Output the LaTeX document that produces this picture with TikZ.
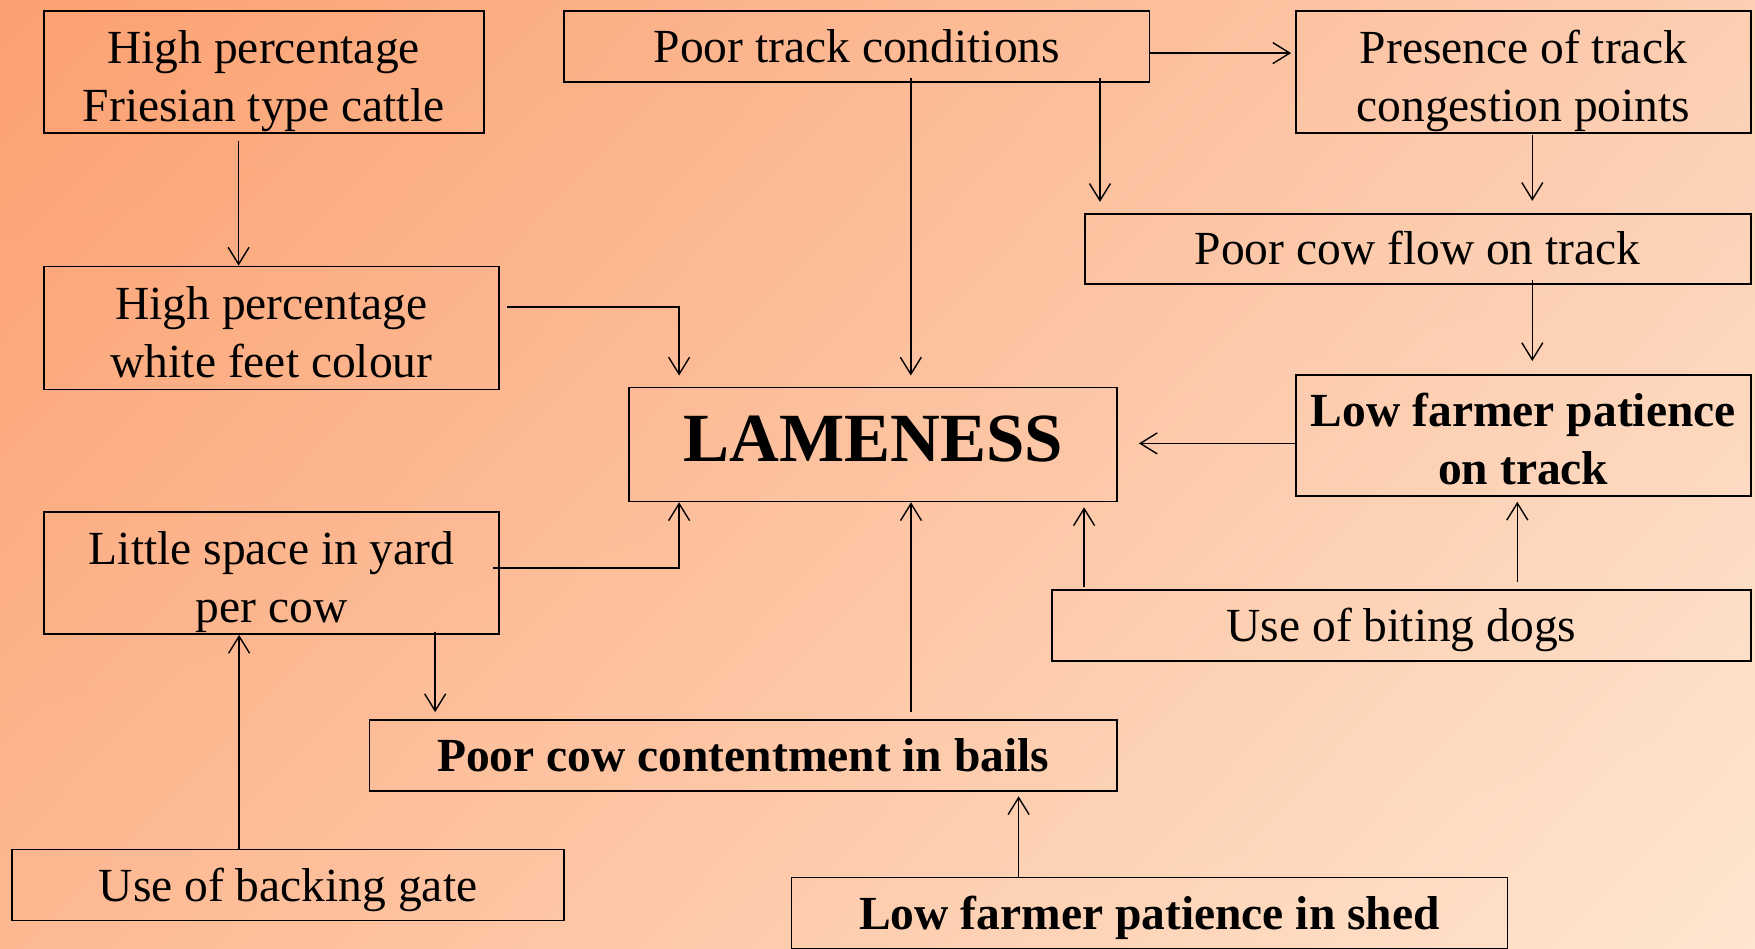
\documentclass[tikz,border=0pt]{standalone}
\usepackage{fontspec}
\setmainfont{Liberation Serif}
\usetikzlibrary{arrows.meta,calc,shadings}

\definecolor{bgUL}{RGB}{251,160,112}
\definecolor{bgUR}{RGB}{252,206,178}
\definecolor{bgLL}{RGB}{253,184,146}
\definecolor{bgLR}{RGB}{254,230,208}

\newcommand{\twoline}[2]{\rule{0pt}{51.5pt}#1\\#2\rule[-10.5pt]{0pt}{10.5pt}}

\begin{document}
\begin{tikzpicture}[x=1pt,y=1pt,yscale=-1,xscale=1,
  factor/.style={draw, line width=1.8pt, inner sep=0pt, align=center, font=\fontsize{47.5}{58}\selectfont},
  keyfactor/.style={factor, font=\fontsize{47.5}{58}\selectfont\bfseries},
  oneline/.style={text height=32pt, text depth=0pt},
  link/.style={line width=1.4pt, -{Straight Barb[length=17pt,width=21pt,line width=1.4pt]}}]
\useasboundingbox (0,0) rectangle (1755,949);
\clip (0,0) rectangle (1755,949);
%Background
\shade [upper left=bgUL, upper right=bgUR, lower left=bgLL, lower right=bgLR] (0,0) rectangle (1755,949);

%Flowchart: Process
\node [factor, minimum width=440pt, minimum height=122pt] (friesian) at (263.6,72) {\twoline{High percentage}{Friesian type cattle}};
%Flowchart: Process
\node [factor, minimum width=455.5pt, minimum height=123pt] (whitefeet) at (271.5,328) {\twoline{High percentage}{white feet colour}};
%Flowchart: Process
\node [factor, oneline, minimum width=585.5pt, minimum height=71pt] (track) at (856.8,46.6) {Poor track conditions};
%Flowchart: Process
\node [factor, minimum width=454.6pt, minimum height=122pt] (congestion) at (1523.3,72.2) {\twoline{Presence of track}{congestion points}};
%Flowchart: Process
\node [factor, oneline, minimum width=666pt, minimum height=70.5pt] (cowflow) at (1417.6,249) {Poor cow flow on track};
%Flowchart: Process
\node [factor, minimum width=488pt, minimum height=114pt, text height=34.6pt, text depth=0pt, font=\fontsize{69}{80}\selectfont\bfseries] (lameness) at (873,444.4) {LAMENESS};
%Flowchart: Process
\node [keyfactor, minimum width=454.6pt, minimum height=121pt] (patiencetrack) at (1523.3,435.4) {\twoline{Low farmer patience}{on track}};
%Flowchart: Process
\node [factor, minimum width=455.5pt, minimum height=122pt] (yardspace) at (271.5,573) {\twoline{Little space in yard}{per cow}};
%Flowchart: Process
\node [factor, oneline, minimum width=699pt, minimum height=71pt] (dogs) at (1401.5,625.5) {Use of biting dogs};
%Flowchart: Process
\node [keyfactor, oneline, minimum width=747.6pt, minimum height=71.3pt] (contentment) at (743.2,755.7) {Poor cow contentment in bails};
%Flowchart: Process
\node [factor, oneline, minimum width=552pt, minimum height=71pt] (backinggate) at (288,885) {Use of backing gate};
%Flowchart: Process
\node [keyfactor, oneline, minimum width=716pt, minimum height=71pt] (patienceshed) at (1149.5,913) {Low farmer patience in shed};

%Line ends
\coordinate (fr1) at ($(friesian.south)+(-25,7)$);
\coordinate (wf1) at ($(whitefeet.east)+(7,-21)$);
\coordinate (lm1) at ($(lameness.north west)+(51,0)$);
\coordinate (tr1) at ($(track.south)+(54,-5)$);
\coordinate (tr2) at ($(track.south east)+(-50.5,-5)$);
\coordinate (tr3) at ($(track.east)+(0,6.5)$);
\coordinate (cg1) at ($(congestion.south)+(9,1)$);
\coordinate (cf1) at ($(patiencetrack.north |- cowflow.south)+(9,-5)$);
\coordinate (pt1) at ($(patiencetrack.west)+(0,8)$);
\coordinate (dg1) at ($(patiencetrack.south |- dogs.north)+(-6,-7)$);
\coordinate (dg2) at ($(dogs.north west)+(33,-2)$);
\coordinate (ct1) at ($(lameness.south |- contentment.north)+(38,-7)$);
\coordinate (ps1) at ($(patienceshed.north west)+(228,0)$);
\coordinate (ys1) at ($(yardspace.east)+(-7,-5)$);
\coordinate (lm2) at ($(lameness.south west)+(51,0)$);
\coordinate (ys2) at ($(yardspace.south east)+(-65,-3)$);
\coordinate (bg1) at ($(backinggate.north west)+(228,0)$);

%Straight Lines
\draw [link] (fr1) -- (fr1 |- whitefeet.north);
\draw [link, shorten >=11pt] (wf1) -| (lm1);
\draw [link, shorten >=11pt] (tr1) -- (tr1 |- lameness.north);
\draw [link, shorten >=11pt] (tr2) -- (tr2 |- cowflow.north);
\draw [link, shorten >=4pt] (tr3) -- (tr3 -| congestion.west);
\draw [link, shorten >=12pt] (cg1) -- (cg1 |- cowflow.north);
\draw [link, shorten >=13pt] (cf1) -- (cf1 |- patiencetrack.north);
\draw [link, shorten >=21pt] (pt1) -- (pt1 -| lameness.east);
\draw [link, shorten >=5pt] (dg1) -- (dg1 |- patiencetrack.south);
\draw [link, shorten >=5pt] (dg2) -- (dg2 |- lameness.south);
\draw [link] (ct1) -- (ct1 |- lameness.south);
\draw [link, shorten >=4pt] (ps1) -- (ps1 |- contentment.south);
\draw [link] (ys1) -| (lm2);
\draw [link, shorten >=7pt] (ys2) -- (ys2 |- contentment.north);
\draw [link] (bg1) -- (bg1 |- yardspace.south);
\end{tikzpicture}
\end{document}
